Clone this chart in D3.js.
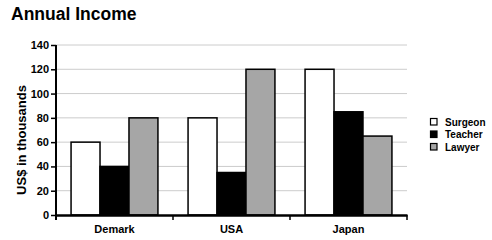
<!DOCTYPE html>
<html>
<head>
<meta charset="utf-8">
<script src="https://cdn.jsdelivr.net/npm/d3@7"></script>
<style>
  body { margin: 0; background: #fff; }
  text { font-family: "Liberation Sans", Arial, sans-serif; font-weight: bold; }
</style>
</head>
<body>
<div id="chart"></div>
<script>
const countries = ['Demark', 'USA', 'Japan'];
const jobs = ['Surgeon', 'Teacher', 'Lawyer'];
const surgeon = [60, 80, 120];
const teacher = [40, 35, 85];
const lawyer = [80, 120, 65];
const yTicks = [0, 20, 40, 60, 80, 100, 120, 140];
const colors = { Surgeon: '#ffffff', Teacher: '#000000', Lawyer: '#a6a6a6' };

const seriesVals = { Surgeon: surgeon, Teacher: teacher, Lawyer: lawyer };
const w = 492, h = 240;
const margin = { top: 45, right: 85, bottom: 25, left: 56 };

const svg = d3.select('#chart').append('svg').attr('width', w).attr('height', h);

const x = d3.scaleBand().domain(countries).range([margin.left, w - margin.right]).padding(0);
const x1 = d3.scaleBand().domain(jobs).range([0, x.bandwidth()]).paddingInner(0).paddingOuter(0.52);
const y = d3.scaleLinear().domain([0, 140]).range([h - margin.bottom, margin.top]);

// title
svg.append('text').attr('x', 11).attr('y', 20).style('font-size', '17.5px').text('Annual Income');

// gridlines
svg.append('g').selectAll('line').data(yTicks.slice(1)).enter().append('line')
  .attr('x1', margin.left).attr('x2', w - margin.right)
  .attr('y1', d => y(d)).attr('y2', d => y(d))
  .attr('stroke', '#cccccc').attr('stroke-width', 1);

// bars
const groups = svg.append('g').selectAll('g').data(countries).enter().append('g')
  .attr('transform', d => `translate(${x(d)},0)`);
groups.selectAll('rect').data((c, i) => jobs.map(j => ({ job: j, value: seriesVals[j][i] })))
  .enter().append('rect')
  .attr('x', d => x1(d.job)).attr('width', x1.bandwidth())
  .attr('y', d => y(d.value)).attr('height', d => y(0) - y(d.value))
  .attr('fill', d => colors[d.job]).attr('stroke', '#000').attr('stroke-width', 1.5);

// y axis
const yAxis = svg.append('g').attr('transform', `translate(${margin.left},0)`)
  .call(d3.axisLeft(y).tickValues(yTicks).tickSize(5).tickPadding(2));
yAxis.select('.domain').attr('stroke-width', 2).attr('d', `M0,${y(140)}V${y(0) + 5}`);
yAxis.selectAll('.tick line').attr('stroke-width', 1.5);
yAxis.selectAll('text').style('font-size', '11px').attr('fill', '#000');

// x axis
const xAxis = svg.append('g').attr('transform', `translate(0,${y(0)})`)
  .call(d3.axisBottom(x).tickSize(0).tickPadding(10));
xAxis.select('.domain').attr('stroke-width', 2.5);
xAxis.selectAll('text').style('font-size', '11px').attr('fill', '#000');
xAxis.selectAll('line.sep').data(countries).enter().append('line').attr('class', 'sep')
  .attr('x1', d => x(d) + x.bandwidth()).attr('x2', d => x(d) + x.bandwidth())
  .attr('y1', 0).attr('y2', 5).attr('stroke', '#000').attr('stroke-width', 1.5);

// y label
svg.append('text').attr('transform', `translate(26,${(y(0) + y(140)) / 2 + 10}) rotate(-90)`)
  .attr('text-anchor', 'middle').style('font-size', '13px').text('US$ in thousands');

// legend
const legend = svg.append('g').attr('transform', 'translate(430,118)');
jobs.forEach((j, i) => {
  const item = legend.append('g').attr('transform', `translate(0,${i * 12.5})`);
  item.append('rect').attr('x', 0.5).attr('y', 0.5).attr('width', 6.5).attr('height', 6.5)
    .attr('fill', colors[j]).attr('stroke', '#000').attr('stroke-width', 1.2);
  item.append('text').attr('x', 15).attr('y', 7.5).style('font-size', '10px').text(j);
});
</script>
</body>
</html>
